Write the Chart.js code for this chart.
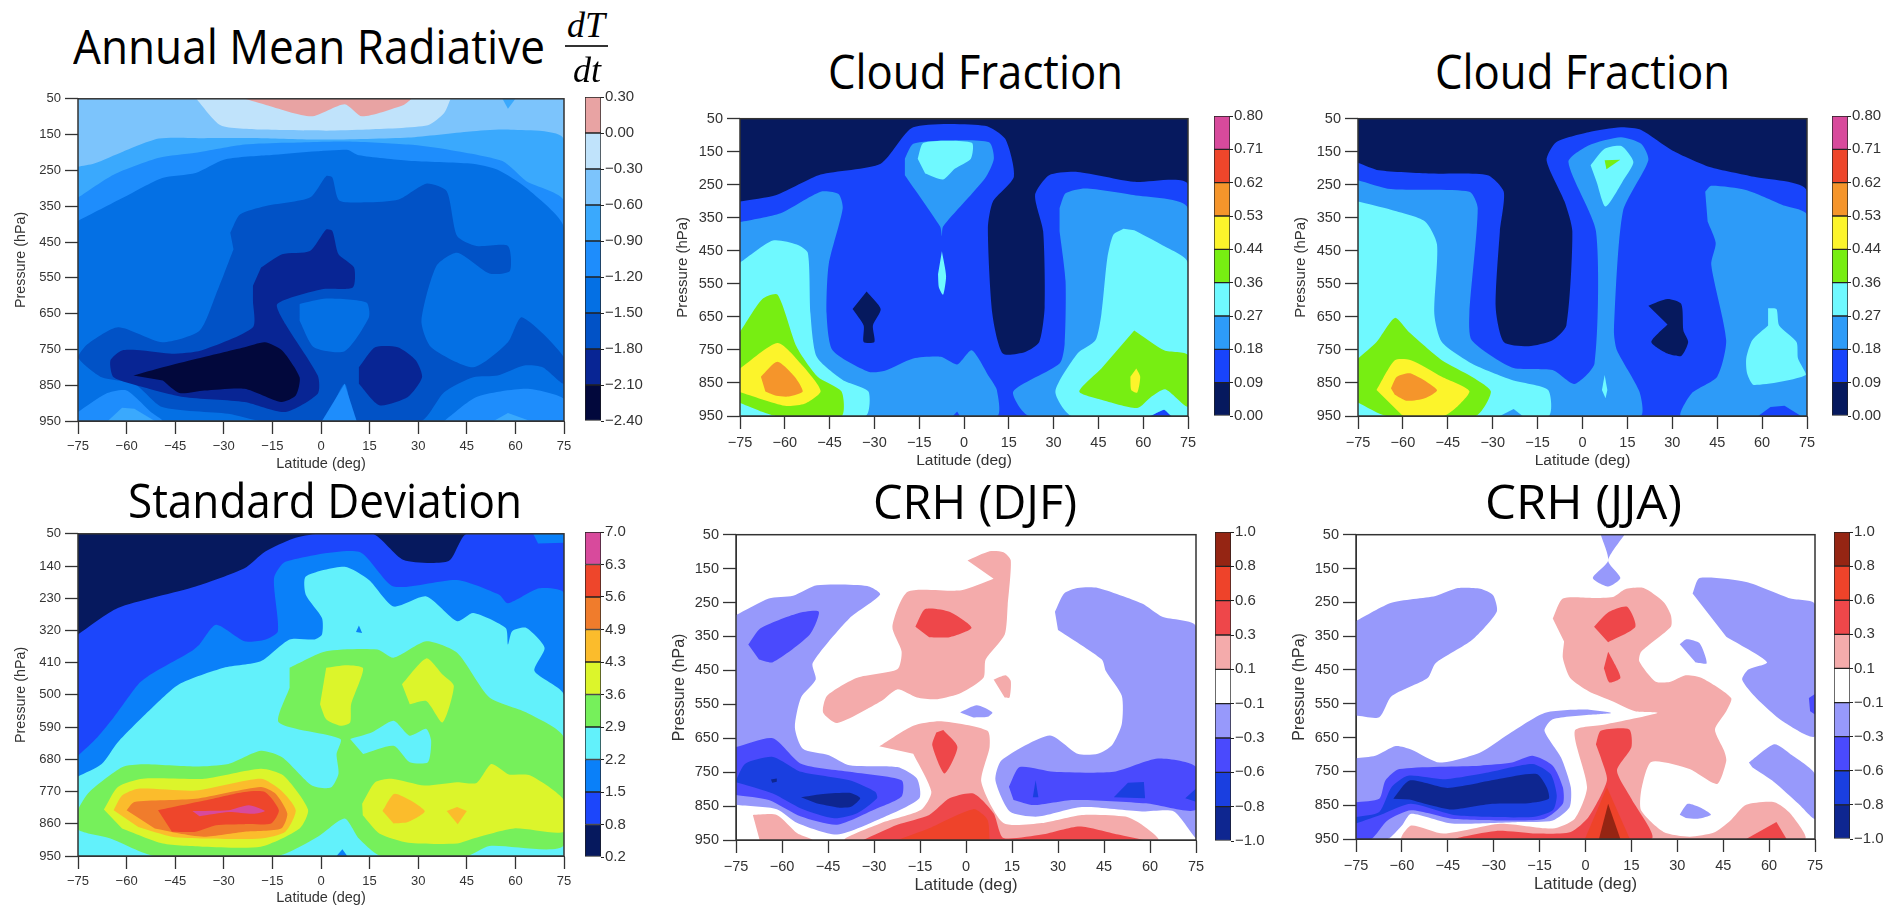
<!DOCTYPE html>
<html>
<head>
    <title>Radiative heating and cloud fraction</title>
    <script src="https://cdn.jsdelivr.net/npm/chart.js"></script>
    <style>
        body { margin: 0; background: #fff; width: 1903px; height: 907px; overflow: hidden; position: relative; }
        canvas { position: absolute; filter: blur(0.5px); }
        .title { position: absolute; font-family: "Open Sans", sans-serif; font-size: 47px; line-height: 47px; color: #000; white-space: nowrap; transform-origin: left top; }
        .frac { position: absolute; font-family: "Liberation Serif", serif; font-style: italic; font-size: 36px; line-height: 36px; color: #000; }
        .fracline { position: absolute; left: 565px; top: 45px; width: 43px; height: 2px; background: #333; }
    </style>
</head>
<body>
    <script>
        const latTicks = [-75, -60, -45, -30, -15, 0, 15, 30, 45, 60, 75];
        const pressureTicks = [50, 150, 250, 350, 450, 550, 650, 750, 850, 950];
        const stdPressureTicks = [50, 140, 230, 320, 410, 500, 590, 680, 770, 860, 950];

        const annualLevels = ['\u22122.40', '\u22122.10', '\u22121.80', '\u22121.50', '\u22121.20', '\u22120.90', '\u22120.60', '\u22120.30', '0.00', '0.30'];
        const cloudLevels = ['0.00', '0.09', '0.18', '0.27', '0.36', '0.44', '0.53', '0.62', '0.71', '0.80'];
        const stdLevels = ['0.2', '0.8', '1.5', '2.2', '2.9', '3.6', '4.3', '4.9', '5.6', '6.3', '7.0'];
        const crhLevels = ['\u22121.0', '\u22120.8', '\u22120.6', '\u22120.3', '\u22120.1', '0.1', '0.3', '0.6', '0.8', '1.0'];

        const annualColors = ['#02083c', '#082594', '#0152c6', '#0470e4', '#1e8dfc', '#3aa9fd', '#7cc4fc', '#c0e3fb', '#e8a3a3'];
        const cloudColors = ['#06195e', '#1844fb', '#2d9bf8', '#6ff9ff', '#77ee12', '#fcf42b', '#f5952b', '#ee462b', '#d84a9c'];
        const stdColors = ['#06195e', '#1c46fb', '#0a80f9', '#62f1fb', '#76f05b', '#dcf52b', '#fbbc2c', '#f07c2c', '#ee462b', '#d84a9c'];
        const crhColors = ['#0e2690', '#1a3fe0', '#4a4afd', '#9799fb', '#ffffff', '#f4abab', '#ee474a', '#ee432a', '#952513'];

        // contours: [band index, [lat, hPa, lat, hPa, ...]], painted in this order
        const annualContours = [
            [6, [-75,50, 75,50, 75,950, -75,950]],
            [7, [-38.5,50, -31,124, -18.5,136, 1.6,139, 14,136, 33,124, 38,90, 40,50]],
            [8, [-23.6,50, -17,67, -3,99, 7.3,65, 12.7,99, 25.5,67, 28,50]],
            [5, [56,50, 57.7,78, 60,50]],
            [5, [-75,240, -70,231, -61,197, -50,161, -36,160, -18.5,160, 1.6,164, 27,158, 46,141, 57.7,136, 75,164, 75,950, -75,950]],
            [4, [-75,326, -64,262, -50,215, -38.7,201, -23.6,178, -11,173, 8,169, 27,178, 39.4,192, 56,224, 63.4,280, 75,336, 75,950, -75,950]],
            [3, [-75,391, -61,326, -49,271, -38.7,257, -30,220, -17,208, 8,192, 11.7,208, 27,223, 46,231, 54.5,248, 63.4,299, 75,410, 75,950, -75,950]],
            [4, [-75,925, -66.4,874, -60,865, -52.5,925, -49,950, -75,950]],
            [5, [-65.8,950, -61.4,913, -57.6,916, -51.3,950]],
            [4, [38,950, 48,883, 63.4,860, 75,888, 75,950]],
            [5, [53.3,950, 57.7,928, 64.6,950]],
            [2, [-28,424, -25,373, -17.3,350, -3.4,326, 1.6,266, 3.5,270, 5.6,334, 14,339, 24,331, 32.5,287, 38.8,308, 42,433, 48,461, 57.7,461, 58.3,531, 52,538, 42,480, 35.6,517, 31,670, 34,744, 47,800, 57.7,730, 62,660, 75,772, 75,846, 68.4,800, 62.7,795, 54.5,823, 47,828, 38,870, 31,950, 11,950, 7.3,846, 0.3,950, -18.5,950, -28.6,930, -49,911, -57.6,846, -67.7,828, -75,772, -72,735, -62.6,688, -49,730, -37.5,698, -32.4,596, -27,470]],
            [3, [-6.6,623, 1.6,608, 14,619, 14.8,660, 7.3,755, -2.2,744, -6.6,670]],
            [4, [0.3,950, 7.3,846, 11,950]],
            [1, [-18.5,521, -12,484, -3.4,475, 1.6,415, 3.5,419, 5.4,484, 10.2,521, 9.8,577, 0.3,582, -13.5,623, -11,679, -1,823, -1,874, -11,925, -23.6,897, -42.5,883, -55,855, -64,828, -65,781, -61.4,753, -55,753, -46,762, -37,753, -21,688, -21,614, -21,572]],
            [1, [11.7,800, 16.7,744, 23.7,744, 29.3,781, 31.2,828, 26.8,883, 18,906, 11.7,846]],
            [0, [-57.9,823, -48.8,800, -38.7,777, -23.6,744, -17.3,730, -12,753, -6.6,828, -7.8,879, -12.3,897, -23.6,860, -36,865, -43.7,872, -48.8,837]]
        ];
        const cloudDjfContours = [
            [0, [-75,50, 75,50, 75,950, -75,950]],
            [1, [-75,301, -62.8,281, -48,219, -27.9,186, -17,76, 7,71, 13.8,111, 16.7,226, 9.7,301, 8,381, 9.5,641, 13,761, 20.5,756, 25.2,726, 27,621, 26.5,391, 23.8,281, 28.5,221, 38,211, 56.7,241, 75,249, 75,950, -75,950]],
            [0, [-32.6,573, -27.9,626, -30.5,676, -30,726, -33.6,726, -33.6,676, -37.3,626]],
            [2, [-75,363, -61.4,336, -48,271, -42,278, -40.6,321, -45.3,491, -46,641, -44,751, -32,816, -26.5,813, -17,776, -7.7,771, -2.3,794, 2.6,751, 8.4,831, 11,871, 11,950, -75,950]],
            [1, [-3.7,950, -2.3,936, -1.4,950]],
            [2, [32,321, 34,276, 40.6,261, 56.7,281, 75,321, 75,950, 21.8,950, 16.5,876, 32,791, 33.7,731, 34,541, 32,391]],
            [1, [62,950, 67,931, 69.5,950]],
            [2, [-19.8,171, -17,126, -6.4,116, 8.4,121, 10,171, 7,231, -7,376, -7.4,405, -8,376, -19.8,221]],
            [3, [-15.5,171, -13.5,123, 2.6,123, 2.3,171, -3,201, -7,234, -13,216]],
            [3, [-7.4,451, -6,526, -7,583, -8.4,561, -8.7,521]],
            [3, [-75,486, -64,419, -56,431, -52.3,456, -51.4,641, -49.3,771, -40.6,841, -32,876, -33,950, -75,950]],
            [4, [-75,696, -67.5,596, -62.4,583, -56,741, -49,831, -41,876, -41,950, -63,950, -75,911]],
            [5, [-75,806, -62.4,729, -54.7,791, -48,874, -53.4,913, -60,919, -75,878]],
            [6, [-68,831, -62.5,786, -56.7,831, -54,876, -58.7,891, -62.8,889, -66.5,876]],
            [3, [53.4,383, 50,401, 48,471, 46,641, 44,721, 38,761, 30.6,876, 36,950, 62,950, 67,931, 69.5,950, 75,950, 75,486, 66,431, 57,388]],
            [4, [57,691, 67,751, 75,766, 75,921, 67.4,869, 62.8,891, 58,926, 46,901, 38.6,876, 46,806]],
            [5, [57.7,806, 59,831, 58,879, 56,871, 55.7,831]]
        ];
        const cloudJjaContours = [
            [0, [-75,50, 75,50, 75,950, -75,950]],
            [1, [-75,183, -68,206, -50.6,216, -31.7,221, -26.3,271, -27.6,391, -29,621, -26.3,726, -18,739, -10,721, -5.4,676, -3.4,391, -6,301, -12,176, -8.8,121, 2,91, 12.8,76, 19.6,84, 30,146, 42.5,196, 57.3,226, 75,269, 75,950, -75,950]],
            [0, [22,616, 28.4,596, 33,611, 33.7,691, 35.3,726, 33,768, 28.4,761, 23,726, 28.4,673]],
            [2, [-75,236, -64,263, -37.8,271, -35,321, -37.8,641, -37,721, -23.6,803, -10,811, -2.7,853, 4,791, 4.5,391, -4.7,181, 2,131, 12.8,106, 19.6,126, 22,176, 13.5,331, 10.5,691, 11.5,751, 19,876, 19.3,950, -75,950]],
            [2, [41,271, 43,253, 54.6,266, 66.8,311, 75,341, 75,950, 33,950, 36.5,881, 45,831, 48,721, 43,491, 44.5,426, 41.8,361]],
            [1, [58.7,950, 62.8,923, 67.5,919, 73,950]],
            [3, [-75,301, -64,326, -52.6,361, -48.6,431, -49.5,641, -47,726, -37,791, -23.6,841, -11.5,871, -11.5,950, -75,950]],
            [2, [-27.6,950, -23,929, -20,950]],
            [3, [2.7,191, 7.4,141, 13,133, 17,181, 14,231, 7.7,316, 4.7,241]],
            [4, [7.4,176, 12.6,174, 8,203]],
            [3, [7.4,826, 8.3,871, 7.7,896, 6.5,871]],
            [3, [62,624, 64.8,626, 65.7,676, 71.5,726, 72,776, 74.6,826, 57.3,856, 55,821, 54.7,776, 56.7,721, 62,676]],
            [4, [-75,776, -68.8,726, -62.7,653, -58,696, -47,781, -37,831, -30.6,876, -35.7,950, -65.4,950, -75,909]],
            [5, [-68.8,871, -62.7,781, -57.3,781, -47,831, -37.8,874, -41.8,921, -46.5,950, -60,950]],
            [6, [-64,866, -62,831, -57.3,821, -48.6,871, -52.7,896, -58.8,904, -62.7,886]]
        ];
        const stdContours = [
            [0, [-75,50, 75,50, 75,950, -75,950]],
            [1, [-75,331, -62.7,257, -38.7,197, -23.6,146, -17.3,100, -8.5,63, -1,50, 16,50, 25.5,123, 39.4,126, 45,50, 75,50, 75,950, -75,950]],
            [2, [-75,670, -69,618, -64,563, -56.4,470, -52.6,443, -40,378, -37.5,359, -32.4,304, -23.6,350, -17.3,346, -13.3,322, -14.5,174, -11,128, 11.7,100, 22.4,197, 42,179, 55,220, 57.7,244, 67.4,202, 75,216, 75,950, -75,950]],
            [2, [65.5,50, 67,77, 75,75, 75,50]],
            [3, [-75,728, -67.7,693, -62.7,632, -52.6,540, -43.8,470, -30,424, -18.6,406, -9.7,345, -2,345, 0.3,331, 0.3,285, -4.7,220, -4.7,169, 7.3,142, 14.8,179, 22.4,253, 32.5,225, 42,294, 47,271, 57,313, 57.7,359, 59,322, 63.4,313, 69,368, 65.9,433, 75,500, 75,950, -75,950]],
            [2, [11.7,306, 12.7,327, 10.8,324]],
            [2, [4.8,950, 6.6,931, 8.1,950]],
            [4, [-9.7,424, 1.6,378, 17.4,373, 22.4,396, 32.5,350, 42,382, 52,507, 63.4,549, 75,619, 75,920, 52,922, 45,950, 18.6,950, 11.7,901, 7.3,845, -1,896, -13.5,950, -51.3,950, -65,901, -75,876, -75,822, -71.5,771, -61.4,702, -55,694, -38.7,700, -28.6,693, -18.6,656, -12,674, -2.8,753, 3,759, 5.4,720, 4.8,665, 6,623, -13,577, -9.7,480]],
            [3, [9,623, 15.6,605, 22.4,572, 27.4,614, 32.5,595, 34,628, 33,688, 27.4,688, 22.4,642, 13,665]],
            [5, [1.6,424, 8,417, 13,426, 9.3,526, 9,577, 6,586, 1.6,568, -0.3,526]],
            [5, [25,470, 32.5,398, 37.5,443, 41,475, 37.5,577, 32.5,517, 27.4,526]],
            [5, [-67,820, -62.7,757, -55,734, -36,734, -18.6,706, -11.6,725, -4,820, -6.6,873, -18.6,924, -36,924, -48.8,915, -61.4,873]],
            [6, [-64,822, -61.4,781, -56.4,762, -38.7,767, -18.6,734, -12.3,767, -7.8,822, -11,882, -18.6,901, -36,901, -46,896, -56.4,869]],
            [7, [-60,822, -57.6,799, -38.7,790, -18.6,757, -14,776, -10.4,831, -12.3,873, -23.6,882, -36,896, -43.7,887, -51.3,873]],
            [8, [-50.3,822, -36,795, -23.6,771, -17.3,771, -13,822, -15.4,859, -23.6,861, -32.4,864, -38.7,882, -46,882]],
            [9, [-39.7,824, -28.6,822, -22.3,808, -17.3,824, -21,832, -28.6,827, -37.5,839]],
            [5, [12.7,804, 16.7,744, 21.8,734, 32,753, 42,744, 48,746, 52.6,693, 58,722, 64.6,725, 75,794, 75,882, 59.6,873, 47,901, 42,915, 27,913, 18,887, 12.9,836]],
            [6, [19,824, 22.8,776, 32,824, 26.8,855, 22.4,859]],
            [6, [38.8,824, 42,813, 45,824, 42.2,861]]
        ];
        const crhDjfContours = [
            [3, [-75,287, -64.3,238, -56.4,230, -48.6,199, -32.2,201, -28,226, -38,296, -50,428, -49,477, -53.8,530, -55.8,618, -53.2,681, -44.7,700, -38,730, -22.4,735, -16,769, -15.2,827, -26.3,881, -42,934, -55,900, -61.7,859, -75,847]],
            [2, [-71,374, -67,326, -55,282, -48,277, -51,345, -63,426, -67.5,418]],
            [2, [-75,676, -63,650, -53.8,725, -38,749, -21,774, -21,822, -30,861, -42,905, -53.8,881, -64.3,832, -75,817]],
            [1, [-75,774, -72,725, -63,705, -53.8,749, -38,774, -29.6,808, -29,827, -35.5,871, -43,886, -53.8,857, -63,813, -75,780]],
            [0, [-53.8,824, -47.3,815, -38,811, -34.5,827, -37.5,852, -42,854, -48.8,842]],
            [0, [-63.6,772, -61.7,769, -61.7,778, -63.2,781]],
            [3, [29,277, 32,223, 36.4,207, 43,207, 57.4,253, 64,292, 75,321, 75,944, 67.8,866, 57.4,866, 37.8,853, 23.4,881, 14.3,866, 9.6,774, 11.6,715, 27.3,642, 36.4,696, 43,696, 47.6,671, 50.8,608, 50.8,525, 45.6,452, 44.3,418, 30,331]],
            [2, [14,793, 17.5,735, 28.6,749, 48.2,749, 62.6,710, 75,735, 75,861, 58.7,842, 35,832, 22,847, 15.5,832]],
            [1, [48.2,824, 52.8,781, 58,779, 58.4,827]],
            [1, [71.5,827, 75,798, 75,837]],
            [1, [21.8,824, 22.7,774, 23.6,824]],
            [3, [-1.9,574, 3.5,553, 8.6,574, 7,587, 2.4,589]],
            [5, [0.5,126, 7.7,99, 12.2,102, 14.6,126, 13.6,257, 12.6,345, 6.4,418, 5.7,472, -1.5,516, -9.3,535, -16,530, -22.4,506, -27.6,540, -42,605, -46.6,574, -45.3,525, -35.5,472, -22.4,447, -21,394, -24,321, -19,218, -1.5,214, 9,180]],
            [6, [-16.5,321, -13.3,269, -5.4,277, 1.8,324, -5.4,352, -12,352]],
            [5, [9,477, 12.9,464, 14.6,481, 14.2,530, 12.6,530]],
            [5, [-28.3,674, -17.2,613, -8,600, 7,628, 7.7,676, 5,779, 12.2,900, 24.7,900, 37.8,876, 52,881, 57.4,905, 62.6,950, -39.4,950, -27.6,900, -14.6,861, -11.3,808, -17.2,696]],
            [5, [-69.5,876, -61.7,876, -55,930, -50,950, -67.3,950]],
            [6, [-33.5,950, -22.4,905, -12,876, -5.4,827, 2.4,813, 9,871, 12.2,944, 24.7,934, 37,910, 49.6,934, 58,950]],
            [7, [-22.4,950, -12,915, 2.4,859, 7,890, 7.7,950]],
            [6, [-7.4,626, -2.8,676, -7,754, -11,671, -9.7,633]]
        ];
        const crhJjaContours = [
            [3, [5,50, 7.4,126, 2.4,178, 7.4,203, 11.4,178, 7.4,126, 12.7,50]],
            [3, [-75,305, -63.4,251, -49,231, -41.7,208, -34.4,210, -30.2,229, -29,278, -37,361, -49,430, -51.6,474, -63.4,528, -67.4,590, -75,585]],
            [3, [35,224, 37.3,178, 52.5,190, 67,239, 75,256, 75,645, 64.3,601, 55.8,533, 51.2,479, 53.2,449, 59.3,427, 46,352]],
            [2, [73,533, 75,521, 75,582, 73.4,572]],
            [3, [30.8,374, 33,359, 37.3,371, 39.6,430, 36,428]],
            [3, [53.4,724, 61.7,670, 67,699, 75,758, 75,890, 69.6,846, 61.7,782, 54.5,738]],
            [3, [30.8,878, 33.4,846, 37.3,856, 41,878, 36.7,890, 32.8,888]],
            [3, [-75,711, -68.7,704, -62,675, -57,685, -47.6,724, -34.4,694, -25.2,640, -13.4,577, -0.2,567, 8.4,577, 2.4,582, -10.7,596, -13.4,630, -8,709, -4.8,797, -5.2,856, -10.7,895, -21.3,900, -43.6,904, -57,875, -60,910, -64.7,950, -75,950]],
            [2, [-75,841, -67.4,831, -65.4,777, -60.8,743, -34.4,733, -24,724, -17.3,704, -10.7,733, -7.4,797, -7.4,846, -13.4,890, -26.5,895, -43.6,890, -57,865, -64.7,895, -70,950, -75,950]],
            [1, [-75,885, -67.4,870, -63.4,797, -58,763, -46.3,773, -31.8,753, -17.3,728, -11.4,758, -9.4,821, -10.7,865, -17.3,885, -42.3,880, -57,846, -66,875, -75,904]],
            [0, [-62.8,831, -57.5,777, -45,799, -28,772, -16,758, -12.7,797, -12,831, -18.7,844, -30.5,846, -43.6,863, -50.2,851, -57.5,833]],
            [5, [-10.7,298, -7.4,239, 2.4,237, 9,234, 13,211, 19,208, 25.5,249, 27.9,288, 27.9,322, 18.2,396, 17.6,425, 22.8,484, 27.5,486, 32.7,466, 38,474, 47.6,533, 46,572, 42.3,626, 45.3,689, 46,719, 43,787, 34,743, 21.5,722, 18.2,807, 18.2,866, 25.5,929, 34,943, 42,931, 47.2,897, 52.5,849, 61.7,841, 67,875, 71.6,950, -60,950, -57,910, -46.3,934, -27.8,905, -10.7,919, -3.5,890, 0.5,797, -3.5,630, 6.4,611, 23.5,577, 16.2,572, 9,543, 1,513, -5,474, -7.4,415, -7,366]],
            [6, [2.8,322, 7.7,278, 13.6,263, 16.3,322, 7.4,368]],
            [6, [7.4,396, 9.7,435, 11.4,474, 7.8,487, 6,445]],
            [6, [3.4,670, 5,630, 14.3,626, 15,679, 10.3,748, 15,831, 21.5,950, -42.3,950, -29.2,926, -16,934, -4.8,929, 1,885, 7,777, 5,709]],
            [6, [52.5,950, 62.4,900, 65.7,950]],
            [7, [-0.2,950, 7,797, 14.5,950]],
            [8, [4.4,950, 7.4,846, 11.4,950]]
        ];

        const axisColor = '#333';
        const fontFamily = '"Liberation Sans", sans-serif';

        function addCanvas(left, top, width, height) {
            const canvas = document.createElement('canvas');
            canvas.width = width;
            canvas.height = height;
            canvas.style.left = left + 'px';
            canvas.style.top = top + 'px';
            document.body.appendChild(canvas);
            return canvas.getContext('2d');
        }

        const frameBox = {
            id: 'frameBox',
            afterDraw(chart) {
                const { ctx, chartArea: a } = chart;
                ctx.save();
                ctx.strokeStyle = axisColor;
                ctx.lineWidth = 1.5;
                ctx.strokeRect(a.left, a.top, a.right - a.left, a.bottom - a.top);
                ctx.restore();
            }
        };

        function drawContours(p) {
            const yWidth = 66, padTop = 10, padRight = 22;
            const ctx = addCanvas(p.left - yWidth, p.top - padTop, p.right - p.left + yWidth + padRight, p.bottom - p.top + padTop + p.xHeight);
            const total = p.contours.length;
            const tickFont = { family: fontFamily, size: p.tickSize };
            new Chart(ctx, {
                type: 'scatter',
                data: {
                    datasets: p.contours.map(function (c, i) {
                        const points = [];
                        for (let k = 0; k < c[1].length; k += 2) {
                            points.push({ x: c[1][k], y: c[1][k + 1] });
                        }
                        return {
                            data: points,
                            showLine: true,
                            fill: 'shape',
                            // small triangles and the background rectangle stay straight
                            tension: c[1].length > 8 ? 0.22 : 0,
                            pointRadius: 0,
                            borderWidth: 0,
                            backgroundColor: p.colors[c[0]],
                            order: total - i
                        };
                    })
                },
                options: {
                    responsive: false,
                    animation: false,
                    events: [],
                    layout: { padding: { top: padTop, right: padRight } },
                    plugins: { legend: { display: false }, tooltip: { enabled: false } },
                    scales: {
                        x: {
                            type: 'linear', min: -75, max: 75,
                            afterBuildTicks: function (s) { s.ticks = latTicks.map(v => ({ value: v })); },
                            afterFit: function (s) { s.height = p.xHeight; },
                            grid: { drawOnChartArea: false, tickLength: 13, tickColor: axisColor, tickWidth: 1.3 },
                            border: { color: axisColor },
                            ticks: {
                                font: tickFont, color: axisColor, padding: 5, maxRotation: 0, autoSkip: false,
                                callback: v => String(v).replace('-', '\u2212')
                            },
                            title: { display: true, text: 'Latitude (deg)', color: axisColor, padding: 0, font: { family: fontFamily, size: p.xTitleSize } }
                        },
                        y: {
                            type: 'linear', min: 50, max: 950, reverse: true,
                            afterBuildTicks: function (s) { s.ticks = p.pressures.map(v => ({ value: v })); },
                            afterFit: function (s) { s.width = yWidth; },
                            grid: { drawOnChartArea: false, tickLength: 13, tickColor: axisColor, tickWidth: 1.3 },
                            border: { color: axisColor },
                            ticks: { font: tickFont, color: axisColor, padding: 4, autoSkip: false },
                            title: { display: true, text: 'Pressure (hPa)', color: axisColor, padding: 0, font: { family: fontFamily, size: p.yTitleSize } }
                        }
                    }
                },
                plugins: [frameBox]
            });
        }

        function drawColorbar(p) {
            const labelWidth = 55, pad = 10;
            const ctx = addCanvas(p.barLeft, p.top - pad, p.barRight - p.barLeft + labelWidth, p.barBottom - p.top + pad * 2);
            new Chart(ctx, {
                type: 'bar',
                data: {
                    labels: [''],
                    datasets: p.colors.map((color, i) => ({
                        data: [[i, i + 1]],
                        backgroundColor: color,
                        borderColor: '#222',
                        borderWidth: 1,
                        borderSkipped: false,
                        barPercentage: 1,
                        categoryPercentage: 1,
                        grouped: false
                    }))
                },
                options: {
                    responsive: false,
                    animation: false,
                    events: [],
                    layout: { padding: { top: pad, bottom: pad } },
                    plugins: { legend: { display: false }, tooltip: { enabled: false } },
                    scales: {
                        x: { display: false },
                        y: {
                            position: 'right', min: 0, max: p.levels.length - 1,
                            afterBuildTicks: function (s) { s.ticks = p.levels.map((l, i) => ({ value: i })); },
                            afterFit: function (s) { s.width = labelWidth; },
                            grid: { drawOnChartArea: false, tickLength: 3, tickColor: '#222' },
                            border: { display: false },
                            ticks: {
                                font: { family: fontFamily, size: 15 }, color: axisColor, padding: 1, autoSkip: false,
                                callback: v => p.levels[v]
                            }
                        }
                    }
                }
            });
        }

        function addTitle(text, left, baseline, width) {
            const el = document.createElement('div');
            el.className = 'title';
            el.textContent = text;
            el.style.left = left + 'px';
            el.style.top = (baseline - 42) + 'px';
            document.body.appendChild(el);
            el.style.transform = 'scaleX(' + (width / el.getBoundingClientRect().width) + ')';
        }

        function addFrac(text, left, top) {
            const el = document.createElement('div');
            el.className = 'frac';
            el.textContent = text;
            el.style.left = left + 'px';
            el.style.top = top + 'px';
            document.body.appendChild(el);
        }

        const panels = [
            { left: 78, right: 564, top: 97, bottom: 421, barLeft: 585, barRight: 601, barBottom: 421, xHeight: 52, tickSize: 13, xTitleSize: 14.5, yTitleSize: 14.3, contours: annualContours, colors: annualColors, levels: annualLevels, pressures: pressureTicks },
            { left: 740, right: 1188, top: 116, bottom: 416, barLeft: 1214, barRight: 1230, barBottom: 416, xHeight: 54, tickSize: 14.5, xTitleSize: 15.5, yTitleSize: 15, contours: cloudDjfContours, colors: cloudColors, levels: cloudLevels, pressures: pressureTicks },
            { left: 1358, right: 1807, top: 116, bottom: 416, barLeft: 1832, barRight: 1848, barBottom: 416, xHeight: 54, tickSize: 14.5, xTitleSize: 15.5, yTitleSize: 15, contours: cloudJjaContours, colors: cloudColors, levels: cloudLevels, pressures: pressureTicks },
            { left: 78, right: 564, top: 532, bottom: 856, barLeft: 585, barRight: 601, barBottom: 857, xHeight: 51, tickSize: 13, xTitleSize: 14.5, yTitleSize: 14.3, contours: stdContours, colors: stdColors, levels: stdLevels, pressures: stdPressureTicks },
            { left: 736, right: 1196, top: 532, bottom: 840, barLeft: 1215, barRight: 1231, barBottom: 841, xHeight: 55, tickSize: 14.5, xTitleSize: 16.7, yTitleSize: 16, contours: crhDjfContours, colors: crhColors, levels: crhLevels, pressures: pressureTicks },
            { left: 1356, right: 1815, top: 532, bottom: 839, barLeft: 1834, barRight: 1850, barBottom: 839, xHeight: 55, tickSize: 14.5, xTitleSize: 16.7, yTitleSize: 16, contours: crhJjaContours, colors: crhColors, levels: crhLevels, pressures: pressureTicks }
        ];

        panels.forEach(function (p) {
            drawContours(p);
            drawColorbar(p);
        });

        addTitle('Annual Mean Radiative', 73, 65, 472);
        addTitle('Cloud Fraction', 828, 90, 295);
        addTitle('Cloud Fraction', 1435, 90, 295);
        addTitle('Standard Deviation', 128, 519, 394);
        addTitle('CRH (DJF)', 873, 520, 204);
        addTitle('CRH (JJA)', 1485, 520, 197);

        addFrac('dT', 567, 7);
        addFrac('dt', 573, 52);
        const fracLine = document.createElement('div');
        fracLine.className = 'fracline';
        document.body.appendChild(fracLine);
    </script>
</body>
</html>
